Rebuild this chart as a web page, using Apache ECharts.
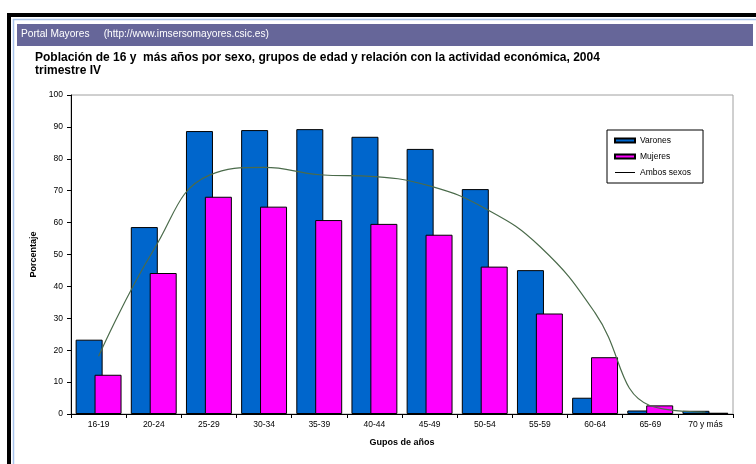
<!DOCTYPE html>
<html>
<head>
<meta charset="utf-8">
<script src="https://cdn.jsdelivr.net/npm/echarts@6/dist/echarts.min.js"></script>
<style>
html,body{margin:0;padding:0;background:#fff;}
#c{width:756px;height:464px;}
</style>
</head>
<body>
<div id="c"></div>
<script>
const categories = ['16-19','20-24','25-29','30-34','35-39','40-44','45-49','50-54','55-59','60-64','65-69','70 y más'];
const varones = [23.3, 58.6, 88.7, 89.0, 89.3, 86.9, 83.1, 70.5, 45.1, 5.1, 1.1, 1.0];
const mujeres = [12.3, 44.2, 68.1, 65.0, 60.8, 59.6, 56.2, 46.2, 31.5, 17.8, 2.7, 0.4];
const ambos = [18.1, 51.5, 74.8, 77.3, 75.0, 74.4, 71.5, 64.5, 52.5, 31.7, 2.6, 0.6];
const headerText = 'Portal Mayores     (http://www.imsersomayores.csic.es)';
const titleText = 'Población de 16 y  más años por sexo, grupos de edad y relación con la actividad económica, 2004\ntrimestre IV';

const FONT = '"Liberation Sans", Arial, sans-serif';
const chart = echarts.init(document.getElementById('c'), null, {renderer: 'canvas'});
chart.setOption({
  backgroundColor: '#ffffff',
  animation: false,
  textStyle: {fontFamily: FONT},
  graphic: [
    {type: 'rect', shape: {x: 7, y: 13, width: 749, height: 4}, style: {fill: '#000'}, silent: true},
    {type: 'rect', shape: {x: 7, y: 13, width: 4, height: 451}, style: {fill: '#000'}, silent: true},
    {type: 'line', shape: {x1: 13, y1: 19.5, x2: 756, y2: 19.5}, style: {stroke: '#a8c4ec', lineWidth: 1.5}, silent: true},
    {type: 'line', shape: {x1: 13.5, y1: 19, x2: 13.5, y2: 464}, style: {stroke: '#a8c4ec', lineWidth: 1.5}, silent: true},
    {type: 'rect', shape: {x: 17, y: 24, width: 736, height: 22}, style: {fill: '#666699'}, silent: true}
  ],
  title: [
    {text: headerText, left: 21, top: 29, padding: 0,
     textStyle: {color: '#ffffff', fontSize: 10.2, fontWeight: 'normal', fontFamily: FONT}},
    {text: titleText, left: 35, top: 51, padding: 0,
     textStyle: {color: '#000', fontSize: 12, fontWeight: 'bold', lineHeight: 13, fontFamily: FONT}}
  ],
  legend: {
    orient: 'vertical',
    left: 607, top: 130,
    padding: [5, 12, 5, 7],
    itemGap: 5,
    itemWidth: 20, itemHeight: 4,
    borderColor: '#000', borderWidth: 1,
    backgroundColor: '#fff',
    textStyle: {fontSize: 8.5, color: '#000', fontFamily: FONT, lineHeight: 11},
    data: [
      {name: 'Varones', icon: 'rect'},
      {name: 'Mujeres', icon: 'rect'},
      {name: 'Ambos sexos', icon: 'path://M0,0 L20,0 L20,1 L0,1 Z', itemStyle: {color: '#000', borderWidth: 0}}
    ]
  },
  grid: {left: 71, right: 23, top: 95, bottom: 50, show: true, borderColor: '#a0a0a0', borderWidth: 1, backgroundColor: 'transparent'},
  xAxis: {
    type: 'category',
    data: categories,
    boundaryGap: true,
    name: 'Gupos de años',
    nameLocation: 'middle',
    nameGap: 24,
    nameTextStyle: {fontSize: 9, fontWeight: 'bold', color: '#000', fontFamily: FONT},
    axisLine: {lineStyle: {color: '#000', width: 1}},
    axisTick: {show: true, inside: false, length: 4, alignWithLabel: false, lineStyle: {color: '#000'}},
    axisLabel: {fontSize: 8.5, color: '#000', margin: 6, interval: 0, fontFamily: FONT},
    splitLine: {show: false}
  },
  yAxis: {
    type: 'value',
    min: 0, max: 100, interval: 10,
    name: 'Porcentaje',
    nameLocation: 'middle',
    nameGap: 33,
    nameRotate: 90,
    nameTextStyle: {fontSize: 9, fontWeight: 'bold', color: '#000', fontFamily: FONT},
    axisLine: {show: true, lineStyle: {color: '#000', width: 1}},
    axisTick: {show: true, inside: false, length: 4, lineStyle: {color: '#000'}},
    axisLabel: {fontSize: 8.5, color: '#000', margin: 8, fontFamily: FONT},
    splitLine: {show: false}
  },
  series: [
    {name: 'Varones', type: 'bar', data: varones, barWidth: 27, barGap: '-30%',
     itemStyle: {color: '#0066cc', borderColor: '#000', borderWidth: 1}, z: 2},
    {name: 'Mujeres', type: 'bar', data: mujeres, barWidth: 27,
     itemStyle: {color: '#ff00ff', borderColor: '#000', borderWidth: 1}, z: 3},
    {name: 'Ambos sexos', type: 'line', data: ambos, smooth: 0.45, symbol: 'none',
     lineStyle: {color: '#4b6b4b', width: 1.2}, itemStyle: {color: '#4b6b4b'}, z: 5}
  ]
});
</script>
</body>
</html>
